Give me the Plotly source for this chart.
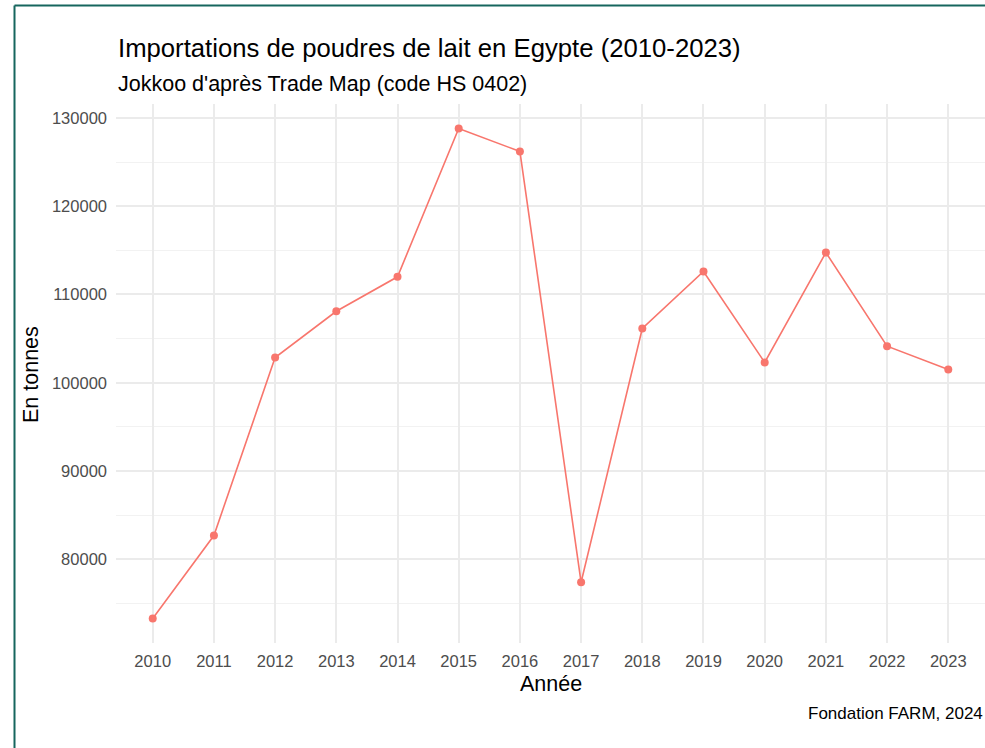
import plotly.graph_objects as go

years = [2010, 2011, 2012, 2013, 2014, 2015, 2016, 2017, 2018, 2019, 2020, 2021, 2022, 2023]
tonnes = [73300, 82700, 102850, 108100, 112000, 128800, 126200, 77400, 106150, 112600, 102300, 114750, 104150, 101500]
y_ticks = [80000, 90000, 100000, 110000, 120000, 130000]

title = "Importations de poudres de lait en Egypte (2010-2023)"
subtitle = "Jokkoo d'après Trade Map (code HS 0402)"
caption = "Fondation FARM, 2024"

W, H = 985, 748
L, R, T, B = 116, 0, 104, 105
pw, ph = W - L - R, H - T - B

def px_x(x):
    return (x - L) / pw

def px_y(y):
    return (H - B - y) / ph

ymin, ymax = min(tonnes), max(tonnes)
pad = 0.05 * (ymax - ymin)

font_family = "Liberation Sans, Arial, Helvetica, sans-serif"
col = "#F8766D"

fig = go.Figure()
fig.add_trace(go.Scatter(
    x=years, y=tonnes, mode="lines+markers",
    line=dict(color=col, width=1.6),
    marker=dict(color=col, size=8),
    showlegend=False, hoverinfo="x+y",
))

fig.update_layout(
    width=W, height=H,
    margin=dict(l=L, r=R, t=T, b=B, autoexpand=False),
    paper_bgcolor="white", plot_bgcolor="white",
    font=dict(family=font_family, color="#4d4d4d"),
    xaxis=dict(
        range=[years[0] - 0.6, years[-1] + 0.6],
        tickvals=years, ticktext=[str(y) for y in years],
        showgrid=True, gridcolor="#ebebeb", gridwidth=1.5,
        zeroline=False, showline=False, ticks="",
        ticklabelstandoff=6,
        tickfont=dict(size=16.5, color="#4d4d4d"),
    ),
    yaxis=dict(
        range=[ymin - pad, ymax + pad],
        tickvals=y_ticks, ticktext=[str(v) for v in y_ticks],
        showgrid=True, gridcolor="#ebebeb", gridwidth=1.5,
        minor=dict(tickvals=[75000, 85000, 95000, 105000, 115000, 125000],
                   showgrid=True, gridcolor="#f2f2f2", gridwidth=1),
        zeroline=False, showline=False, ticks="",
        ticklabelstandoff=8,
        tickfont=dict(size=16.5, color="#4d4d4d"),
    ),
)

ann = [
    dict(text=title, x=0, y=px_y(48), xanchor="left", yanchor="middle",
         font=dict(size=25.7, color="black")),
    dict(text=subtitle, x=0, y=px_y(84), xanchor="left", yanchor="middle",
         font=dict(size=21.5, color="black")),
    dict(text="Année", x=px_x(551), y=px_y(684), xanchor="center", yanchor="middle",
         font=dict(size=21.5, color="black")),
    dict(text="En tonnes", x=px_x(31), y=px_y(375), xanchor="center", yanchor="middle",
         textangle=-90, font=dict(size=21.5, color="black")),
    dict(text=caption, x=1, y=px_y(713), xanchor="right", yanchor="middle",
         font=dict(size=17, color="black")),
]
for a in ann:
    a.update(xref="paper", yref="paper", showarrow=False)
fig.update_layout(annotations=ann)

border = "#16665e"
fig.add_shape(type="line", xref="paper", yref="paper",
              x0=px_x(14.5), x1=px_x(W + 5), y0=px_y(5.5), y1=px_y(5.5),
              line=dict(color=border, width=2))
fig.add_shape(type="line", xref="paper", yref="paper",
              x0=px_x(14.5), x1=px_x(14.5), y0=px_y(5.5), y1=px_y(H + 5),
              line=dict(color=border, width=2))

fig.write_html("out.html", config={"displayModeBar": False},
               post_script="document.body.style.margin='0';document.body.style.overflow='hidden';")
